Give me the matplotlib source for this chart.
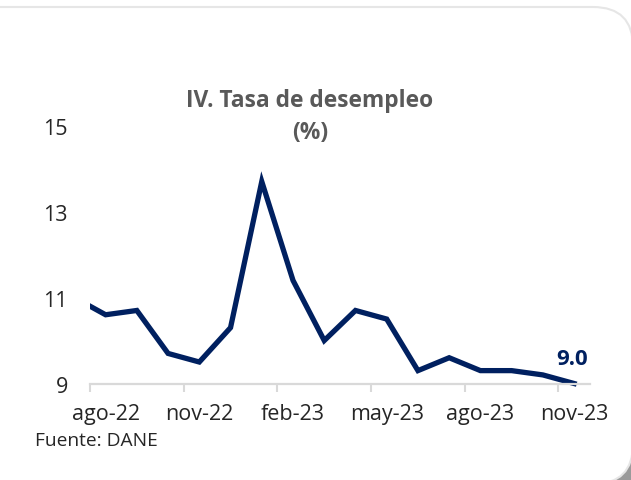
import matplotlib
matplotlib.use("Agg")
import matplotlib.pyplot as plt
from matplotlib.patches import FancyBboxPatch, Rectangle
from matplotlib.transforms import Bbox, TransformedBbox, IdentityTransform
import numpy as np

# monthly unemployment rate (%), jul-22 sits just outside the visible window
months = ['jul-22', 'ago-22', 'sep-22', 'oct-22', 'nov-22', 'dic-22',
          'ene-23', 'feb-23', 'mar-23', 'abr-23', 'may-23', 'jun-23',
          'jul-23', 'ago-23', 'sep-23', 'oct-23', 'nov-23']
desempleo = [11.0, 10.6, 10.7, 9.7, 9.5, 10.3,
             13.7, 11.4, 10.0, 10.7, 10.5, 9.3,
             9.6, 9.3, 9.3, 9.2, 9.0]
yticks = [9, 11, 13, 15]

navy = '#002060'
gris_txt = '#595959'
gris_eje = '#d9d9d9'

plt.rcParams['font.family'] = ['Open Sans', 'DejaVu Sans']

fig = plt.figure(figsize=(6.31, 4.81), dpi=100)
fig.patch.set_facecolor('white')

# card look: dark corner behind, white rounded card on top
fig.patches.append(Rectangle((580, 0), 60, 40, transform=IdentityTransform(),
                             facecolor='#9a9a9a', edgecolor='none', zorder=0))
fig.patches.append(FancyBboxPatch((-100, -4), 733, 477,
                                  boxstyle='round,pad=0,rounding_size=40',
                                  transform=IdentityTransform(),
                                  facecolor='white', edgecolor='#e6e6e6',
                                  linewidth=1.5, zorder=1))

ax = fig.add_axes([0.1426, 0.2006, 0.792, 0.536])
ax.set_facecolor('none')
ax.set_zorder(2)

x = np.arange(len(months))
linea, = ax.plot(x, desempleo, color=navy, linewidth=3.8,
                 solid_joinstyle='miter')
# clip only horizontally so the line is not cut at the bottom
linea.set_clip_box(TransformedBbox(Bbox([[0.5, 7], [len(months) - 0.5, 17]]),
                                   ax.transData))

ax.set_xlim(0.5, len(months) - 0.5)
ax.set_ylim(9, 15)

for s in ['top', 'right', 'left']:
    ax.spines[s].set_visible(False)
ax.spines['bottom'].set_color(gris_eje)
ax.spines['bottom'].set_linewidth(1.6)

# tick marks between categories, labels on every third month
ax.set_xticks(np.arange(0.5, len(months) - 0.5, 3))
ax.set_xticklabels([])
ax.tick_params(axis='x', which='major', length=6, width=1.5, color=gris_eje)
lab_pos = x[1::3]
ax.set_xticks(lab_pos, minor=True)
ax.set_xticklabels([months[i] for i in lab_pos], minor=True)
ax.tick_params(axis='x', which='minor', length=0, pad=14, labelsize=15.5,
               labelcolor='#262626')

ax.set_yticks(yticks)
ax.set_yticklabels([str(v) for v in yticks])
ax.tick_params(axis='y', length=0, pad=16, labelsize=15.5, labelcolor='#262626')

ax.annotate(f'{desempleo[-1]:.1f}', xy=(x[-1], desempleo[-1]),
            xytext=(-2, 25), textcoords='offset pixels',
            ha='center', va='center', fontsize=16, fontweight='bold',
            color=navy)

fig.text(310 / 631, 1 - 117 / 481, 'IV. Tasa de desempleo\n(%)',
         ha='center', va='center', fontsize=16.4, fontweight='bold',
         color=gris_txt, linespacing=1.45, zorder=3)

fig.text(35 / 631, 1 - 441 / 481, 'Fuente: DANE', ha='left', va='center',
         fontsize=13.8, color='#262626', zorder=3)

fig.savefig('out.png', dpi=100, facecolor=fig.get_facecolor())
